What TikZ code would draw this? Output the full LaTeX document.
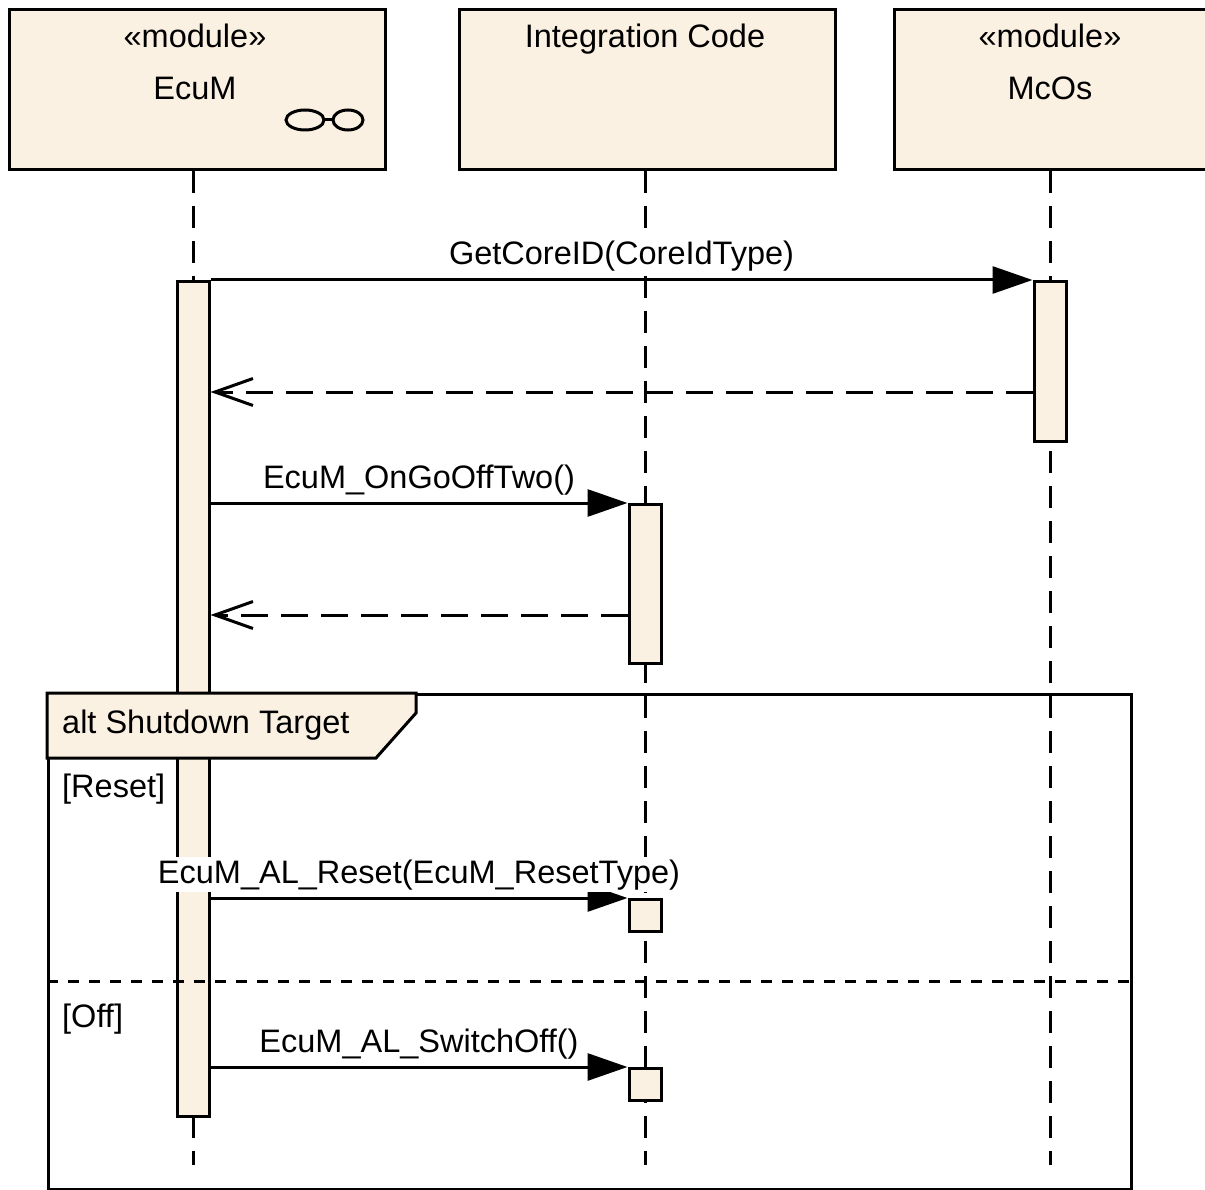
\documentclass[tikz,border=0pt]{standalone}
\usepackage{fontspec}
\setmainfont{Liberation Sans}
\usetikzlibrary{arrows.meta}
\definecolor{umlfill}{RGB}{251,241,226}

\tikzset{
  head/.style={draw, fill=umlfill, line width=3pt, minimum width=376pt, minimum height=160pt, anchor=north west, inner sep=0pt},
  bar/.style={draw, fill=umlfill, line width=3pt, minimum width=32pt, anchor=north, inner sep=0pt},
  lifeline/.style={line width=3pt, dash pattern=on 22pt off 13pt},
  call/.style={line width=3pt, -{Triangle[length=40pt, width=27pt]}},
  reply/.style={line width=3pt, dash pattern=on 27pt off 13pt, -{Straight Barb[length=38pt, width=27pt, line width=3pt]}},
  msg/.style={anchor=base, fill=white, inner sep=2pt, yshift=15pt}
}

\begin{document}
\begin{tikzpicture}[x=1pt, y=-1pt, every node/.style={font=\fontsize{32.5}{39}\selectfont}]
\useasboundingbox (0,0) rectangle (1205,1190);

% lifeline heads
\node[head] (ecum) at (8,8) {};
\node[head] (integ) at (458,8) {};
\node[head] (mcos) at (893,8) {};
\node[anchor=base] (ecumst) at (195,48) {«module»};
\node[anchor=base] (ecumname) at (195,100) {EcuM};
\node[anchor=base] (integname) at (645,48) {Integration Code};
\node[anchor=base] (mcosst) at (1050,48) {«module»};
\node[anchor=base] (mcosname) at (1050,100) {McOs};
\draw[line width=3pt] (305,120) ellipse (19pt and 10pt);
\draw[line width=3pt] (348,120) ellipse (15pt and 10pt);
\draw[line width=3pt] (324,120) -- (333,120);

% lifelines
\draw[lifeline] (ecum.south -| 193,0) -- (193,1165);
\draw[lifeline] (integ.south -| 645,0) -- (645,1165);
\draw[lifeline] (mcos.south -| 1050,0) -- (1050,1165);

% activations
\node[bar, minimum height=835pt] (ecumact) at (193,280) {};
\node[bar, minimum height=160pt] (mcosact) at (1050,280) {};
\node[bar, minimum height=159pt] (integact) at (645,503) {};
\node[bar, minimum height=32pt] (resetact) at (645,898) {};
\node[bar, minimum height=32pt] (offact) at (645,1067) {};

% alt frame
\node[draw, line width=3.4pt, minimum width=1083pt, minimum height=495pt, anchor=north west, inner sep=0pt] (altframe) at (47,693) {};
\draw[line width=3pt, fill=umlfill] (47,693) -- (416,693) -- (416,713) -- (376,758) -- (47,758) -- cycle;
\node[anchor=base west, inner sep=0pt] (alttitle) at (62,733) {alt Shutdown Target};
\node[anchor=base west, inner sep=0pt] (guardreset) at (62,797) {[Reset]};
\node[anchor=base west, inner sep=0pt] (guardoff) at (62,1027) {[Off]};
\coordinate (sep) at (0,981);
\draw[line width=3pt, dash pattern=on 11pt off 10pt] (altframe.west |- sep) -- (altframe.east |- sep);

% messages
\coordinate (r1) at (0,392);
\coordinate (r2) at (0,615);
\draw[call] (ecumact.north east) -- (mcosact.north west) node[msg, midway] {GetCoreID(CoreIdType)};
\draw[reply] (mcosact.west |- r1) -- (ecumact.east |- r1);
\draw[call] (ecumact.east |- integact.north) -- (integact.north west) node[msg, midway] {EcuM\_OnGoOffTwo()};
\draw[reply] (integact.west |- r2) -- (ecumact.east |- r2);
\draw[call] (ecumact.east |- resetact.north) -- (resetact.north west) node[msg, midway] {EcuM\_AL\_Reset(EcuM\_ResetType)};
\draw[call] (ecumact.east |- offact.north) -- (offact.north west) node[msg, midway] {EcuM\_AL\_SwitchOff()};

\end{tikzpicture}
\end{document}
